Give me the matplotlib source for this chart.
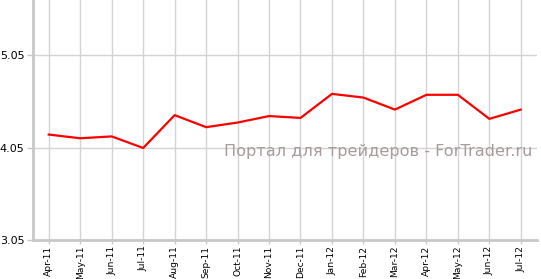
import matplotlib
matplotlib.use("Agg")
import matplotlib.pyplot as plt

months = ["Apr-11", "May-11", "Jun-11", "Jul-11", "Aug-11", "Sep-11", "Oct-11", "Nov-11",
          "Dec-11", "Jan-12", "Feb-12", "Mar-12", "Apr-12", "May-12", "Jun-12", "Jul-12"]
values = [4.19, 4.15, 4.17, 4.045, 4.40, 4.27, 4.32, 4.39,
          4.37, 4.63, 4.59, 4.46, 4.62, 4.62, 4.36, 4.46]
yticks = [3.05, 4.05, 5.05]
watermark = "Портал для трейдеров - ForTrader.ru"

fig = plt.figure(figsize=(5.41, 2.79), dpi=100)
ax = fig.add_axes([33/541, 1 - 240/279, (536.5 - 33)/541, 240/279])

x = list(range(len(months)))
ax.plot(x, values, color="#ff0000", lw=1.6, zorder=3)

ax.set_xlim(-0.5, len(months) - 0.5)
ax.set_ylim(3.05, 5.645)
ax.set_xticks(x)
ax.set_xticklabels(months, rotation=90, fontsize=6.6)
ax.set_yticks(yticks)
ax.set_yticklabels([f"{v:.2f}" for v in yticks], fontsize=8)

ax.grid(True, color="#d4d4d4", lw=1)
ax.set_axisbelow(True)
for s in ["top", "right"]:
    ax.spines[s].set_visible(False)
for s in ["left", "bottom"]:
    ax.spines[s].set_color("#c8c8c8")
    ax.spines[s].set_linewidth(2)
ax.tick_params(axis="y", colors="#c8c8c8", length=4, width=1, labelcolor="#000000", pad=2)
ax.tick_params(axis="x", colors="#c8c8c8", length=3, width=1, labelcolor="#000000", pad=1)

ax.text(0.992, 0.348, watermark, transform=ax.transAxes, ha="right", va="baseline",
        fontsize=11.6, color="#a89c9c", zorder=2)

fig.savefig("out.png", dpi=100)
